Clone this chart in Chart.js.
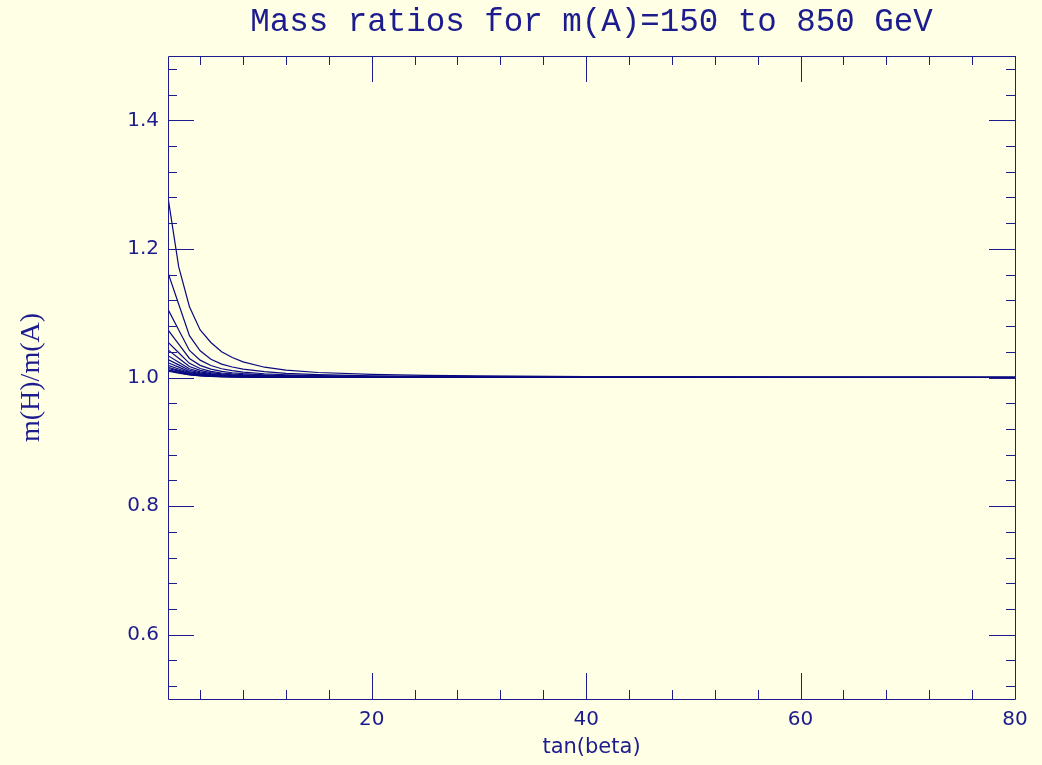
<!DOCTYPE html>
<html>
<head>
<meta charset="utf-8">
<script src="https://cdn.jsdelivr.net/npm/chart.js@4/dist/chart.umd.min.js"></script>
<style>
  html, body { margin: 0; padding: 0; background: #FFFFE5; }
  #wrap { width: 1042px; height: 765px; }
</style>
</head>
<body>
<div id="wrap"><canvas id="c" width="1042" height="765"></canvas></div>
<script>
// ---- data ----
const tanBeta = [1, 2, 3, 4, 5, 6, 7, 8, 10, 12, 15, 20, 25, 30, 40, 50, 60, 70, 80];
const massA = [150, 200, 250, 300, 350, 400, 450, 500, 550, 600, 650, 700, 750, 800, 850];

const ratio_mA150 = [1.280, 1.172, 1.110, 1.074, 1.0545, 1.040, 1.031, 1.0243, 1.016, 1.0115, 1.0078, 1.0050, 1.0033, 1.0024, 1.0014, 1.0009, 1.0006, 1.0005, 1.0004];
const ratio_mA200 = [1.163, 1.114, 1.065, 1.0416, 1.0285, 1.0209, 1.0163, 1.0130, 1.0090, 1.0065, 1.0044, 1.0026, 1.0018, 1.0013, 1.0008, 1.0005, 1.0003, 1.0002, 1.0002];
const ratio_mA250 = [1.106, 1.074, 1.042, 1.027, 1.0186, 1.0136, 1.0106, 1.0085, 1.0058, 1.0042, 1.0029, 1.0017, 1.0012, 1.0008, 1.0005, 1.0003, 1.0002, 1.0002, 1.0001];
const ratio_mA300 = [1.074, 1.052, 1.0296, 1.0189, 1.0130, 1.0095, 1.0074, 1.0059, 1.0041, 1.0030, 1.0020, 1.0012, 1.0008, 1.0006, 1.0004, 1.0002, 1.0001, 1.0001, 1.0001];
const ratio_mA350 = [1.055, 1.0385, 1.022, 1.014, 1.0096, 1.0070, 1.0055, 1.0044, 1.0030, 1.0022, 1.0015, 1.0009, 1.0006, 1.0004, 1.0003, 1.0002, 1.0001, 1.0001, 1.0001];
const ratio_mA400 = [1.043, 1.030, 1.0172, 1.0110, 1.0075, 1.0055, 1.0043, 1.0034, 1.0024, 1.0017, 1.0012, 1.0007, 1.0005, 1.0003, 1.0002, 1.0001, 1.0001, 1.0001, 1.0000];
const ratio_mA450 = [1.034, 1.0238, 1.0136, 1.0087, 1.0060, 1.0044, 1.0034, 1.0027, 1.0019, 1.0014, 1.0009, 1.0005, 1.0004, 1.0003, 1.0002, 1.0001, 1.0001, 1.0000, 1.0000];
const ratio_mA500 = [1.028, 1.0196, 1.0112, 1.0071, 1.0049, 1.0036, 1.0028, 1.0022, 1.0015, 1.0011, 1.0008, 1.0004, 1.0003, 1.0002, 1.0001, 1.0001, 1.0000, 1.0000, 1.0000];
const ratio_mA550 = [1.023, 1.0161, 1.0092, 1.0059, 1.0040, 1.0029, 1.0023, 1.0018, 1.0013, 1.0009, 1.0006, 1.0004, 1.0003, 1.0002, 1.0001, 1.0001, 1.0000, 1.0000, 1.0000];
const ratio_mA600 = [1.019, 1.0133, 1.0076, 1.0048, 1.0033, 1.0024, 1.0019, 1.0015, 1.0010, 1.0008, 1.0005, 1.0003, 1.0002, 1.0002, 1.0001, 1.0001, 1.0000, 1.0000, 1.0000];
const ratio_mA650 = [1.016, 1.0112, 1.0064, 1.0041, 1.0028, 1.0020, 1.0016, 1.0013, 1.0009, 1.0006, 1.0004, 1.0003, 1.0002, 1.0001, 1.0001, 1.0000, 1.0000, 1.0000, 1.0000];
const ratio_mA700 = [1.014, 1.0098, 1.0056, 1.0036, 1.0025, 1.0018, 1.0014, 1.0011, 1.0008, 1.0006, 1.0004, 1.0002, 1.0002, 1.0001, 1.0001, 1.0000, 1.0000, 1.0000, 1.0000];
const ratio_mA750 = [1.012, 1.0084, 1.0048, 1.0031, 1.0021, 1.0015, 1.0012, 1.0010, 1.0007, 1.0005, 1.0003, 1.0002, 1.0001, 1.0001, 1.0000, 1.0000, 1.0000, 1.0000, 1.0000];
const ratio_mA800 = [1.011, 1.0077, 1.0044, 1.0028, 1.0019, 1.0014, 1.0011, 1.0009, 1.0006, 1.0004, 1.0003, 1.0002, 1.0001, 1.0001, 1.0000, 1.0000, 1.0000, 1.0000, 1.0000];
const ratio_mA850 = [1.0097, 1.0068, 1.0039, 1.0025, 1.0017, 1.0012, 1.0010, 1.0008, 1.0005, 1.0004, 1.0003, 1.0002, 1.0001, 1.0001, 1.0000, 1.0000, 1.0000, 1.0000, 1.0000];

const allRatios = [ratio_mA150, ratio_mA200, ratio_mA250, ratio_mA300, ratio_mA350, ratio_mA400,
  ratio_mA450, ratio_mA500, ratio_mA550, ratio_mA600, ratio_mA650, ratio_mA700, ratio_mA750,
  ratio_mA800, ratio_mA850];

const xTickLabels = [20, 40, 60, 80];
const yTickLabels = [0.6, 0.8, 1.0, 1.2, 1.4];
const xMinorStep = 4, xMajorStep = 20;
const yMinorStep = 0.04, yMajorStep = 0.2;

// ---- styling ----
const INK = '#1c1c8e';
const LINE = '#0a0a80';
const BG = '#FFFFE5';

const datasets = allRatios.map((arr, i) => ({
  label: 'm(A)=' + massA[i] + ' GeV',
  data: tanBeta.map((t, j) => ({ x: t, y: arr[j] })),
  borderColor: LINE,
  borderWidth: 1.2,
  pointRadius: 0,
  tension: 0,
  fill: false
}));

const bgPlugin = {
  id: 'bg',
  beforeDraw(chart) {
    const ctx = chart.ctx;
    ctx.save();
    ctx.fillStyle = BG;
    ctx.fillRect(0, 0, chart.width, chart.height);
    ctx.restore();
  }
};

function stepsBetween(min, max, step) {
  const out = [];
  const start = Math.ceil(min / step - 1e-9);
  for (let k = start; k * step <= max + 1e-9; k++) out.push(k * step);
  return out;
}

const framePlugin = {
  id: 'frame',
  afterDatasetsDraw(chart) {
    const { ctx, chartArea: a, scales } = chart;
    const xs = scales.x, ys = scales.y;
    ctx.save();
    ctx.strokeStyle = INK;
    ctx.lineWidth = 1;
    ctx.beginPath();
    ctx.rect(Math.round(a.left) + 0.5, Math.round(a.top) + 0.5,
             Math.round(a.right - a.left), Math.round(a.bottom - a.top));
    ctx.stroke();
    ctx.beginPath();
    // x ticks (bottom & top, inward)
    stepsBetween(xs.min, xs.max, xMinorStep).forEach(v => {
      const isMajor = Math.abs(v / xMajorStep - Math.round(v / xMajorStep)) < 1e-6;
      const len = isMajor ? 26 : 9;
      const px = Math.round(xs.getPixelForValue(v)) + 0.5;
      ctx.moveTo(px, a.bottom); ctx.lineTo(px, a.bottom - len);
      ctx.moveTo(px, a.top); ctx.lineTo(px, a.top + len);
    });
    // y ticks (left & right, inward)
    stepsBetween(ys.min, ys.max, yMinorStep).forEach(v => {
      const isMajor = Math.abs(v / yMajorStep - Math.round(v / yMajorStep)) < 1e-6;
      const len = isMajor ? 26 : 9;
      const py = Math.round(ys.getPixelForValue(v)) + 0.5;
      ctx.moveTo(a.left, py); ctx.lineTo(a.left + len, py);
      ctx.moveTo(a.right, py); ctx.lineTo(a.right - len, py);
    });
    ctx.stroke();
    ctx.restore();
  }
};

new Chart(document.getElementById('c'), {
  type: 'line',
  data: { datasets },
  plugins: [bgPlugin, framePlugin],
  options: {
    responsive: false,
    animation: false,
    layout: { padding: { left: 0, right: 27, top: 0, bottom: 0 } },
    plugins: {
      legend: { display: false },
      tooltip: { enabled: false },
      title: {
        display: true,
        fullSize: false,
        align: 'center',
        text: 'Mass ratios for m(A)=150 to 850 GeV',
        color: INK,
        font: { family: "'Liberation Mono', monospace", size: 32.5, weight: 'normal' },
        padding: { top: 3, bottom: 14 }
      }
    },
    scales: {
      x: {
        type: 'linear',
        min: 1,
        max: 80,
        afterBuildTicks(scale) { scale.ticks = xTickLabels.map(v => ({ value: v })); },
        afterFit(scale) { scale.height = 66; },
        grid: { display: false, drawTicks: false },
        border: { display: false },
        ticks: {
          color: INK,
          font: { family: "'DejaVu Sans', sans-serif", size: 20 },
          padding: 9,
          maxRotation: 0,
          callback: v => String(v)
        },
        title: {
          display: true,
          text: 'tan(beta)',
          color: INK,
          font: { family: "'DejaVu Sans', sans-serif", size: 21 },
          padding: { top: 0, bottom: 5 }
        }
      },
      y: {
        type: 'linear',
        min: 0.5,
        max: 1.5,
        afterBuildTicks(scale) { scale.ticks = yTickLabels.map(v => ({ value: v })); },
        afterFit(scale) { scale.width = 168; },
        grid: { display: false, drawTicks: false },
        border: { display: false },
        ticks: {
          color: INK,
          font: { family: "'DejaVu Sans', sans-serif", size: 20 },
          padding: 9,
          callback: v => Number(v).toFixed(1)
        },
        title: {
          display: true,
          text: 'm(H)/m(A)',
          color: INK,
          font: { family: "'Liberation Serif', serif", size: 28 },
          padding: { top: 15, bottom: 0 }
        }
      }
    }
  }
});
</script>
</body>
</html>
